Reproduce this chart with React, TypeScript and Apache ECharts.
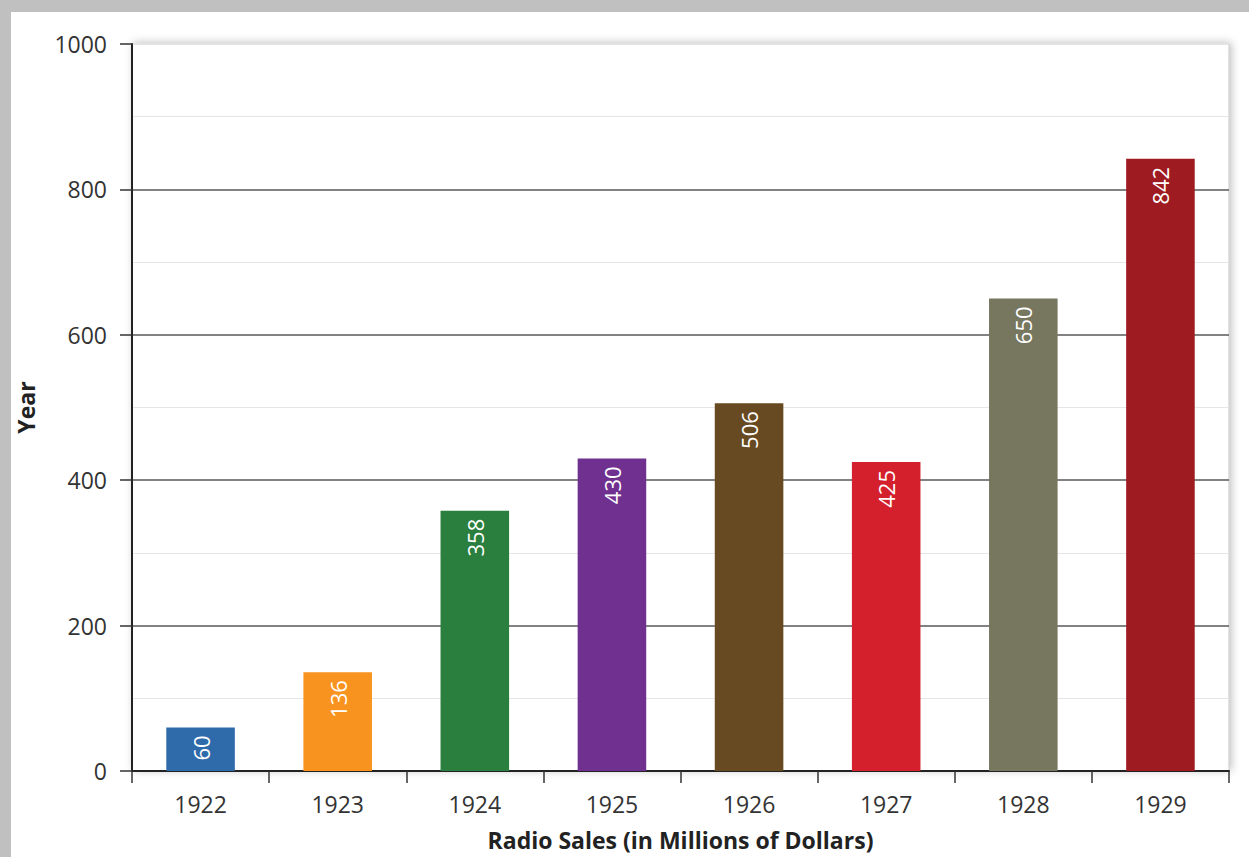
import React, { useEffect, useRef } from "react";
import * as echarts from "echarts";

const years = ["1922", "1923", "1924", "1925", "1926", "1927", "1928", "1929"];
const sales = [60, 136, 358, 430, 506, 425, 650, 842];
const barColors = ["#2f6aab", "#f7931e", "#2a7f3f", "#70308f", "#674a22", "#d4202c", "#77765f", "#9e1b21"];
const xTitle = "Radio Sales (in Millions of Dollars)";
const yTitle = "Year";

const FONT = "'Open Sans', 'Noto Sans', sans-serif";

export default function App() {
  const ref = useRef<HTMLDivElement>(null);
  useEffect(() => {
    if (!ref.current) return;
    const chart = echarts.init(ref.current, undefined, { renderer: "svg" });
    chart.setOption({
      animation: false,
      backgroundColor: "#ffffff",
      textStyle: { fontFamily: FONT },
      graphic: [
        { type: "rect", left: 0, top: 0, shape: { width: 1249, height: 12 }, style: { fill: "#c0c0c0" }, z: 100 },
        { type: "rect", left: 0, top: 0, shape: { width: 11, height: 857 }, style: { fill: "#c0c0c0" }, z: 100 },
      ],
      grid: {
        left: 132,
        right: 20,
        top: 44,
        bottom: 86,
        containLabel: false,
        outerBoundsMode: "none",
        show: true,
        backgroundColor: "#ffffff",
        borderColor: "#c4c4c4",
        borderWidth: 1,
        shadowColor: "rgba(0,0,0,0.25)",
        shadowBlur: 8,
        shadowOffsetX: 2,
        shadowOffsetY: -1,
      },
      xAxis: {
        type: "category",
        data: years,
        name: xTitle,
        nameLocation: "middle",
        nameGap: 57,
        nameTextStyle: { fontFamily: FONT, fontWeight: "bold", fontSize: 23, color: "#222" },
        axisLine: { show: true, lineStyle: { color: "#222", width: 2 } },
        axisTick: { show: true, length: 12, lineStyle: { color: "#333", width: 1.5 } },
        axisLabel: { fontFamily: FONT, fontSize: 23, color: "#333", margin: 21 },
      },
      yAxis: {
        type: "value",
        min: 0,
        max: 1000,
        interval: 200,
        name: yTitle,
        nameLocation: "middle",
        nameGap: 95,
        nameRotate: 90,
        nameTextStyle: { fontFamily: FONT, fontWeight: "bold", fontSize: 23, color: "#222" },
        axisLine: { show: true, lineStyle: { color: "#222", width: 2 } },
        axisTick: { show: true, length: 12, lineStyle: { color: "#333", width: 1.5 } },
        axisLabel: { fontFamily: FONT, fontSize: 23, color: "#333", margin: 25, formatter: (v: number) => String(v) },
        splitLine: {
          show: true,
          lineStyle: { color: ["#585858", "#585858", "#585858", "#585858", "#585858", "#e6e6e6"], width: 1.6 },
        },
        minorTick: { show: false, splitNumber: 2 },
        minorSplitLine: { show: true, lineStyle: { color: "#e6e6e6", width: 1 } },
      },
      series: [
        {
          type: "bar",
          barWidth: "50%",
          data: sales.map((v, i) => ({ value: v, itemStyle: { color: barColors[i] } })),
          label: {
            show: true,
            position: "insideTop",
            rotate: 90,
            align: "right",
            verticalAlign: "middle",
            distance: 8,
            color: "#ffffff",
            fontFamily: FONT,
            fontSize: 22,
          },
        },
      ],
    });
    return () => chart.dispose();
  }, []);
  return (
    <div
      ref={ref}
      style={{ position: "absolute", left: 0, top: 0, width: 1249, height: 857 }}
    />
  );
}
